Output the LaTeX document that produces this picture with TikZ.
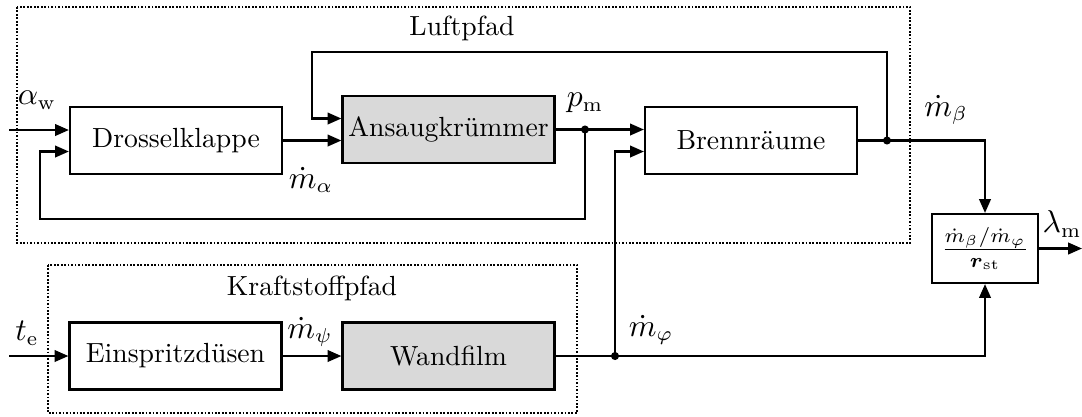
\documentclass[tikz,border=0pt]{standalone}
\usepackage{amsmath}
\usetikzlibrary{arrows.meta,calc}

\tikzset{
  block/.style={draw, line width=0.75pt, minimum width=73.5pt, minimum height=23.2pt, inner sep=0pt},
  grayblock/.style={block, fill=black!15},
  sig/.style={->, line width=0.75pt},
  pathbox/.style={line width=0.65pt, dash pattern=on 0.6pt off 0.6pt},
  junct/.style={fill=black},
  signame/.style={inner sep=0.5pt, font=\fontsize{10.5}{12.5}\selectfont},
}

\begin{document}
\begin{tikzpicture}[x=0.3467pt, y=-0.3467pt, >={Triangle[length=4.8pt,width=4pt]},
    font=\fontsize{9.6}{11.5}\selectfont]
    \useasboundingbox (0,0) rectangle (1082,416);

    % Draw the two path frames
    \draw[pathbox] (17,7) rectangle (910,243);
    \draw[pathbox] (48,265) rectangle (577,413);
    \node (luft) at (462,28) {Luftpfad};
    \node (kraft) at (312,288) {Kraftstoffpfad};

    % Draw blocks
    \node[block] (drossel) at (176,140.5) {Drosselklappe};
    \node[grayblock] (ansaug) at (448.5,129.5) {Ansaugkrümmer};
    \node[block] (brenn) at (751,140.5) {Brennräume};
    \node[block] (einspritz) at (175.5,356) {Einspritzdüsen};
    \node[grayblock] (wand) at (448.5,356) {Wandfilm};
    \node[block, minimum width=36.7pt, minimum height=23.9pt] (ratio) at (985,248.5)
        {$\frac{\dot{m}_\beta/\dot{m}_\varphi}{\boldsymbol{r}_{\mathrm{st}}}$};

    % Branch points and free ends
    \coordinate (aw) at (9,130);
    \coordinate (te) at (9,356);
    \coordinate (pm) at (585,129.5);
    \coordinate (mb) at (887,140.5);
    \coordinate (mphi) at (615,356);
    \coordinate (fbl) at (40,219);
    \coordinate (fbt) at (312,52);
    \coordinate (lam) at (1082,248.5);

    % Draw signals
    \draw[sig] (aw) -- ($(drossel.west)+(0,-10.5)$);
    \draw[sig] (drossel.east) -- (drossel.east -| ansaug.west);
    \draw[sig] (ansaug.east) -- (ansaug.east -| brenn.west);
    \draw[sig] (pm) |- (fbl) |- ($(drossel.west)+(0,11)$);
    \draw[sig] (mb) |- (fbt) |- ($(ansaug.west)+(0,-11)$);
    \draw[sig] (brenn.east) -| (ratio.north);
    \draw[sig] (ratio.east) -- (lam);
    \draw[sig] (te) -- (einspritz.west);
    \draw[sig] (einspritz.east) -- (wand.west);
    \draw[sig] (wand.east) -| (ratio.south);
    \draw[sig] (mphi) |- ($(brenn.west)+(0,11)$);
    \fill[junct] (pm) circle (1.4pt);
    \fill[junct] (mb) circle (1.4pt);
    \fill[junct] (mphi) circle (1.4pt);

    % Signal names
    \node[signame] (lalpha) at (37,100) {$\alpha_{\mathrm{w}}$};
    \node[signame] (lmalpha) at (311,180) {$\dot{m}_\alpha$};
    \node[signame] (lpm) at (585,103) {$p_{\mathrm{m}}$};
    \node[signame] (lmbeta) at (946,110) {$\dot{m}_\beta$};
    \node[signame] (llam) at (1062,224) {$\lambda_{\mathrm{m}}$};
    \node[signame] (lte) at (27,333) {$t_{\mathrm{e}}$};
    \node[signame] (lmpsi) at (310,332) {$\dot{m}_\psi$};
    \node[signame] (lmphi) at (651,330) {$\dot{m}_\varphi$};
\end{tikzpicture}
\end{document}
